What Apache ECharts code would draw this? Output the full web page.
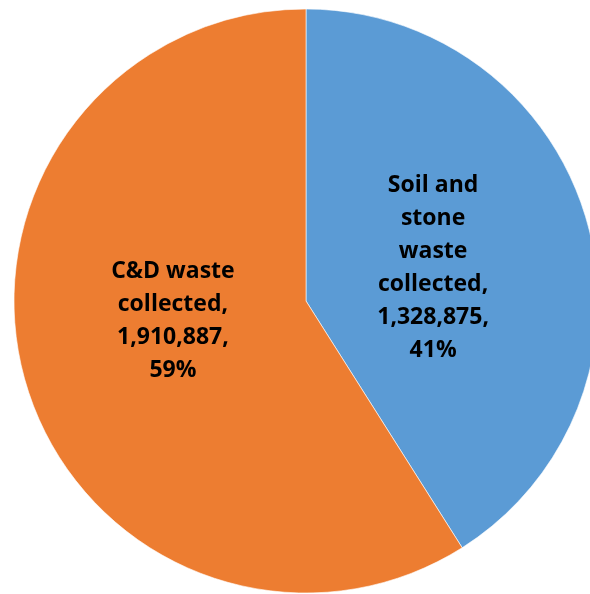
<!DOCTYPE html>
<html><head><meta charset="utf-8">
<script src="https://cdn.jsdelivr.net/npm/echarts@6/dist/echarts.min.js"></script>
<style>html,body{margin:0;padding:0;background:#fff}#c{width:590px;height:594px}</style>
</head><body><div id="c"></div>
<script>
const categories = ["Soil and stone waste collected", "C&D waste collected"];
const labelLines = [["Soil and", "stone", "waste", "collected,"], ["C&D waste", "collected,"]];
const values = [1328875, 1910887];
const colors = ["#5B9BD5", "#ED7D31"];

const chart = echarts.init(document.getElementById('c'), null, {renderer: 'canvas'});
const labelShift = [[-16, 8], [10, -22]];
chart.setOption({
  animation: false,
  series: [{
    type: 'pie',
    center: [306, 301],
    radius: [0, 292],
    startAngle: 90,
    clockwise: true,
    percentPrecision: 0,
    data: categories.map((n, i) => ({name: n, value: values[i], itemStyle: {color: colors[i]}})),
    itemStyle: {borderColor: '#fff', borderWidth: 0.6},
    label: {
      show: true,
      position: 'inside',
      fontFamily: 'Open Sans',
      fontWeight: 'bold',
      fontSize: 23,
      lineHeight: 33,
      color: '#000',
      align: 'center',
      formatter: p => labelLines[p.dataIndex].join('\n') + '\n' + p.value.toLocaleString('en-US') + ',\n' + Math.round(p.percent) + '%'
    },
    labelLayout: p => ({dx: labelShift[p.dataIndex][0], dy: labelShift[p.dataIndex][1]}),
    emphasis: {disabled: true}
  }]
});
</script></body></html>
